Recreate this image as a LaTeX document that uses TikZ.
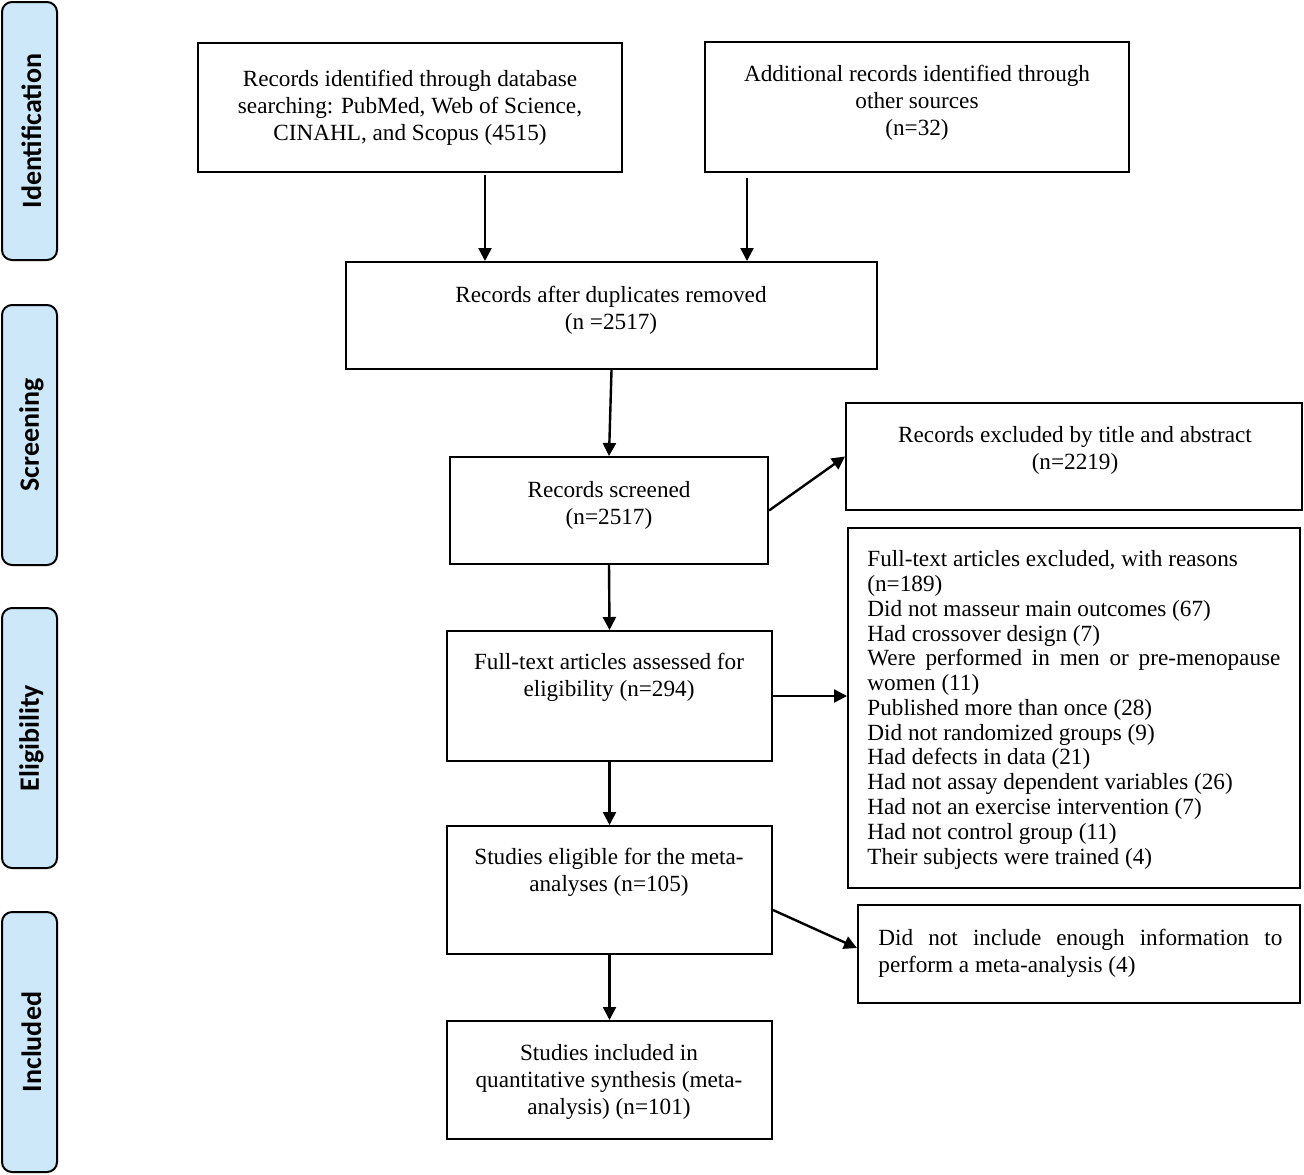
\documentclass[tikz,border=0pt]{standalone}
\usepackage{fontspec}
\setmainfont{Liberation Serif}
\newfontfamily\labelfont{Carlito}
\usetikzlibrary{fit,calc,arrows.meta}
\definecolor{sidefill}{RGB}{205,232,249}
\begin{document}
\begin{tikzpicture}[x=0.5pt,y=-0.5pt,
  box/.style={draw, line width=1pt, inner sep=0pt, fill=white},
  side/.style={draw, line width=1pt, inner sep=0pt, rounded corners=5pt, fill=sidefill},
  sidetxt/.style={font=\labelfont\bfseries\fontsize{14pt}{16pt}\selectfont, rotate=90, inner sep=0pt},
  txt/.style={font=\fontsize{11.6pt}{13.5pt}\selectfont, inner sep=0pt, align=center, anchor=base},
  ltxt/.style={font=\fontsize{11.6pt}{13.5pt}\selectfont, inner sep=0pt, align=left, anchor=base west},
  arr/.style={line width=1.2pt, -{Triangle[length=6.5pt,width=6.5pt]}}]
\useasboundingbox (0,0) rectangle (1304,1174);

% phase labels
\node[side, fit={(2,2)(57,260)}] (s1) {};
\node[sidetxt] (t1) at ([xshift=1pt]s1.center) {Identification};
\node[side, fit={(2,305)(57,565)}] (s2) {};
\node[sidetxt] (t2) at ([xshift=1pt]s2.center) {Screening};
\node[side, fit={(2,608)(57,868)}] (s3) {};
\node[sidetxt] (t3) at ([xshift=1pt]s3.center) {Eligibility};
\node[side, fit={(2,912)(57,1172)}] (s4) {};
\node[sidetxt] (t4) at ([xshift=1pt]s4.center) {Included};

% boxes (text anchored at the baseline of its last line)
\node[box, fit={(198,43)(622,172)}] (A) {};
\node[txt] (tA) at (410,140) {Records identified through database\\searching: PubMed, Web of Science,\\CINAHL, and Scopus (4515)};

\node[box, fit={(705,42)(1129,172)}] (B) {};
\node[txt] (tB) at (917,135) {Additional records identified through\\other sources\\(n=32)};

\node[box, fit={(346,262)(877,369)}] (C) {};
\node[txt] (tC) at (611,329) {Records after duplicates removed\\(n =2517)};

\node[box, fit={(450,457)(768,564)}] (D) {};
\node[txt] (tD) at (609,524) {Records screened\\(n=2517)};

\node[box, fit={(846,403)(1302,510)}] (E) {};
\node[txt] (tE) at (1075,469) {Records excluded by title and abstract\\(n=2219)};

\node[box, fit={(447,631)(772,761)}] (F) {};
\node[txt] (tF) at (609,696) {Full-text articles assessed for\\eligibility (n=294)};

\node[box, fit={(848,528)(1300,888)}] (G) {};
\node[ltxt, font=\fontsize{11.6pt}{12.38pt}\selectfont] (tG) at (867,864) {Full-text articles excluded, with reasons\\
(n=189)\\
Did not masseur main outcomes (67)\\
Had crossover design (7)\\
\makebox[206.5pt][s]{Were performed in men or pre-menopause}\\
women (11)\\
Published more than once (28)\\
Did not randomized groups (9)\\
Had defects in data (21)\\
Had not assay dependent variables (26)\\
Had not an exercise intervention (7)\\
Had not control group (11)\\
Their subjects were trained (4)};

\node[box, fit={(447,826)(772,954)}] (H) {};
\node[txt] (tH) at (609,891) {Studies eligible for the meta-\\analyses (n=105)};

\node[box, fit={(858,905)(1300,1003)}] (I) {};
\node[ltxt] (tI) at (878,972) {\makebox[202pt][s]{Did not include enough information to}\\perform a meta-analysis (4)};

\node[box, fit={(447,1021)(772,1139)}] (J) {};
\node[txt] (tJ) at (609,1114) {Studies included in\\quantitative synthesis (meta-\\analysis) (n=101)};

% connectors
\path (A.south west) ++(288,2) coordinate (a1);
\path (B.south west) ++(43,5) coordinate (b1);
\draw[arr] (a1) -- (a1 |- C.north);
\draw[arr] (b1) -- (b1 |- C.north);
\draw[arr] (C.south) -- (D.north);
\draw[arr] (D.east) -- (E.west);
\draw[arr] (D.south) -- (F.north);
\draw[arr] (F.east) -- (F.east -| G.west);
\draw[arr] (F.south) -- (H.north);
\draw[arr] ([yshift=-10pt]H.east) -- ([yshift=3pt]I.west);
\draw[arr] (H.south) -- (J.north);
\end{tikzpicture}
\end{document}
